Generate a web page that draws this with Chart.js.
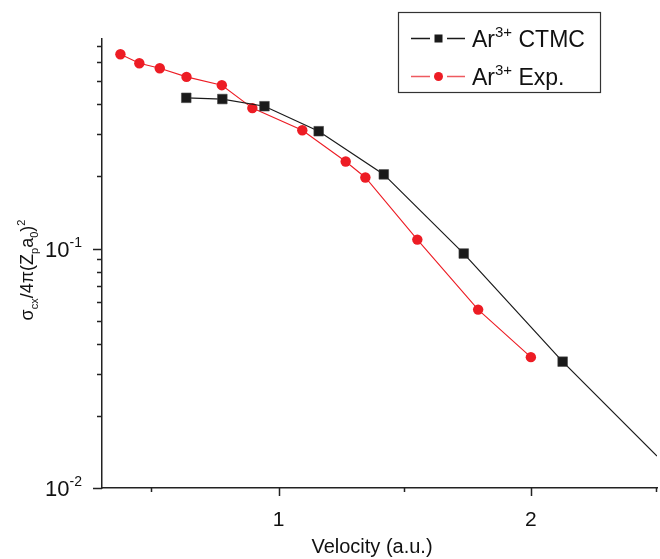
<!DOCTYPE html>
<html>
<head>
<meta charset="utf-8">
<script src="https://cdn.jsdelivr.net/npm/chart.js@4/dist/chart.umd.min.js"></script>
<style>
  html, body { margin: 0; padding: 0; background: #fff; overflow: hidden; }
  canvas { display: block; }
</style>
</head>
<body>
<canvas id="chart" width="660" height="559"></canvas>
<script>
// CTMC theory (black squares); last point only continues the line to the edge
const ctmcX = [0.634, 0.777, 0.944, 1.159, 1.417, 1.734, 2.126, 2.5];
const ctmcY = [0.426, 0.421, 0.393, 0.309, 0.204, 0.0953, 0.0337, 0.0136];
// experiment (red circles)
const expX = [0.373, 0.448, 0.529, 0.635, 0.775, 0.896, 1.094, 1.266, 1.344, 1.550, 1.791, 2.0];
const expY = [0.648, 0.594, 0.566, 0.521, 0.481, 0.386, 0.312, 0.231, 0.198, 0.109, 0.0556, 0.0352];

const xMajor = [1, 2];
const xMinor = [0.5, 1.5, 2.5];
const yMajor = [0.01, 0.1];
const yMajorLabels = [['10', '-2'], ['10', '-1']];
const yMinor = [0.02, 0.03, 0.04, 0.05, 0.06, 0.07, 0.08, 0.09, 0.2, 0.3, 0.4, 0.5, 0.6, 0.7];

const FONT = '"Liberation Sans", Arial, Helvetica, sans-serif';
const RED = '#ed1c24';
const BLACK = '#1a1a1a';
const AXIS = '#222';

function toPoints(xs, ys) {
  return xs.map((x, i) => ({ x: x, y: ys[i] }));
}

// draw text made of parts: {t, s: 'sup' | 'sub' | undefined}
function richWidth(ctx, parts, size, small) {
  let w = 0;
  parts.forEach(p => {
    ctx.font = (p.s ? small : size) + 'px ' + FONT;
    w += ctx.measureText(p.t).width;
  });
  return w;
}

function drawRich(ctx, parts, x, y, size, small, align) {
  const w = richWidth(ctx, parts, size, small);
  let cx = x;
  if (align === 'center') cx = x - w / 2;
  if (align === 'right') cx = x - w;
  ctx.textBaseline = 'alphabetic';
  ctx.textAlign = 'left';
  parts.forEach(p => {
    const fs = p.s ? small : size;
    ctx.font = fs + 'px ' + FONT;
    let dy = 0;
    if (p.s === 'sup') dy = -size * 0.45;
    if (p.s === 'sub') dy = size * 0.25;
    ctx.fillText(p.t, cx, y + dy);
    cx += ctx.measureText(p.t).width;
  });
}

const decor = {
  id: 'decor',
  afterDraw(chart) {
    const ctx = chart.ctx;
    const xs = chart.scales.x;
    const ys = chart.scales.y;
    const area = chart.chartArea;
    ctx.save();
    ctx.strokeStyle = AXIS;
    ctx.lineWidth = 1.5;
    ctx.beginPath();
    xMajor.forEach(v => {
      const px = Math.round(xs.getPixelForValue(v)) + 0.5;
      ctx.moveTo(px, area.bottom); ctx.lineTo(px, area.bottom + 8);
    });
    xMinor.forEach(v => {
      const px = Math.round(xs.getPixelForValue(v)) - 0.5;
      ctx.moveTo(px, area.bottom); ctx.lineTo(px, area.bottom + 4);
    });
    yMajor.forEach(v => {
      const py = Math.round(ys.getPixelForValue(v)) + 0.5;
      ctx.moveTo(area.left, py); ctx.lineTo(area.left - 9, py);
    });
    yMinor.forEach(v => {
      const py = Math.round(ys.getPixelForValue(v)) + 0.5;
      ctx.moveTo(area.left, py); ctx.lineTo(area.left - 5, py);
    });
    ctx.stroke();

    ctx.fillStyle = '#111';
    // x tick labels
    ctx.font = '21px ' + FONT;
    ctx.textAlign = 'center';
    ctx.textBaseline = 'middle';
    xMajor.forEach(v => {
      ctx.fillText(String(v), xs.getPixelForValue(v), 520);
    });
    // y tick labels with exponent
    yMajor.forEach((v, i) => {
      const py = ys.getPixelForValue(v);
      drawRich(ctx, [{ t: yMajorLabels[i][0] }, { t: yMajorLabels[i][1], s: 'sup' }],
        82, py + 8, 22, 14, 'right');
    });
    // x title
    drawRich(ctx, [{ t: 'Velocity (a.u.)' }], 372, 553, 20, 13, 'center');
    // y title, rotated
    ctx.save();
    ctx.translate(27, 270);
    ctx.rotate(-Math.PI / 2);
    drawRich(ctx, [
      { t: 'σ' }, { t: 'cx', s: 'sub' }, { t: '/4π(Z' }, { t: 'p', s: 'sub' },
      { t: 'a' }, { t: '0', s: 'sub' }, { t: ')' }, { t: '2', s: 'sup' }
    ], 0, 6, 18, 11, 'center');
    ctx.restore();

    // legend box
    ctx.lineWidth = 1.2;
    ctx.strokeStyle = '#333';
    ctx.strokeRect(398.5, 12.5, 202, 80);
    const rows = [
      { y: 38, color: BLACK, line: BLACK, label: 'CTMC', shape: 'rect' },
      { y: 76, color: RED, line: '#ee5a5f', label: 'Exp.', shape: 'circle' }
    ];
    rows.forEach(r => {
      ctx.strokeStyle = r.line;
      ctx.lineWidth = 1.3;
      ctx.beginPath();
      ctx.moveTo(411, r.y + 0.5); ctx.lineTo(430, r.y + 0.5);
      ctx.moveTo(447, r.y + 0.5); ctx.lineTo(465, r.y + 0.5);
      ctx.stroke();
      ctx.fillStyle = r.color;
      if (r.shape === 'rect') {
        ctx.fillRect(434.5, r.y - 3.5, 8, 8);
      } else {
        ctx.beginPath();
        ctx.arc(438.5, r.y + 0.5, 4.5, 0, Math.PI * 2);
        ctx.fill();
      }
      ctx.fillStyle = '#111';
      drawRich(ctx, [{ t: 'Ar' }, { t: '3+', s: 'sup' }, { t: ' ' + r.label }],
        472, r.y + 9, 23, 15, 'left');
    });
    ctx.restore();
  }
};

document.addEventListener('DOMContentLoaded', () => {
  const ctx = document.getElementById('chart').getContext('2d');
  new Chart(ctx, {
    type: 'scatter',
    data: {
      datasets: [{
        label: 'Ar3+ CTMC',
        data: toPoints(ctmcX, ctmcY),
        showLine: true,
        borderColor: BLACK,
        backgroundColor: BLACK,
        borderWidth: 1.2,
        pointStyle: 'rect',
        pointRadius: ctmcX.map((_, i) => i === ctmcX.length - 1 ? 0 : 6.8),
        pointBorderWidth: 0.6,
        pointBorderColor: '#444'
      }, {
        label: 'Ar3+ Exp.',
        data: toPoints(expX, expY),
        showLine: true,
        borderColor: RED,
        backgroundColor: RED,
        borderWidth: 1.1,
        pointStyle: 'circle',
        pointRadius: 5.2,
        pointBorderWidth: 0
      }]
    },
    options: {
      responsive: false,
      animation: false,
      events: [],
      layout: { autoPadding: false, padding: { top: 39, right: 3, left: 0, bottom: 0 } },
      plugins: {
        legend: { display: false },
        tooltip: { enabled: false }
      },
      scales: {
        x: {
          type: 'linear',
          min: 0.3,
          max: 2.5,
          ticks: { display: false },
          grid: { display: false, drawTicks: false },
          border: { display: true, color: AXIS, width: 1.5 },
          afterFit: s => { s.height = 71; }
        },
        y: {
          type: 'logarithmic',
          min: 0.01,
          max: 0.75,
          ticks: { display: false },
          grid: { display: false, drawTicks: false },
          border: { display: true, color: AXIS, width: 1.5 },
          afterFit: s => { s.width = 102; }
        }
      }
    },
    plugins: [decor]
  });
});
</script>
</body>
</html>
